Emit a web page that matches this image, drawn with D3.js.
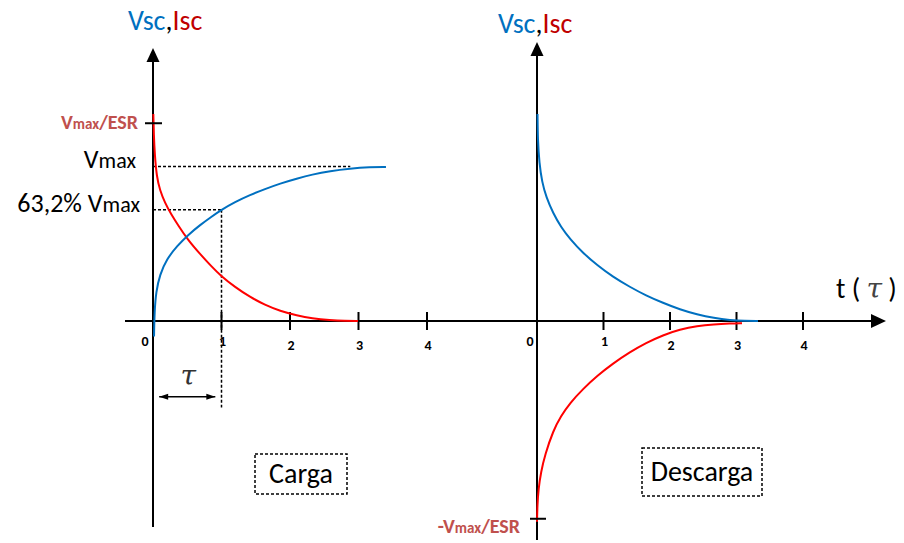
<!DOCTYPE html>
<html>
<head>
<meta charset="utf-8">
<script src="https://cdn.jsdelivr.net/npm/d3@7"></script>
<style>
  body { margin: 0; background: #fff; }
  text { font-family: Carlito, Lato, sans-serif; }
</style>
</head>
<body>
<svg id="chart" width="904" height="543"></svg>
<script>
// time axis, in units of tau
const tickValues = [0, 1, 2, 3, 4];
const tickLabels = ['0', '1', '2', '3', '4'];

// levels on the vertical axis, in units of Vmax
const levelVmaxESR = 1.28;
const levelVmax = 1.0;
const level632 = 0.72;

// charge (Carga): [t, value]
const chargeVoltage = [[0.015, -0.1], [0.022, 0.06], [0.045, 0.19], [0.1, 0.3], [0.2, 0.4],
  [0.35, 0.485], [0.511, 0.557], [0.686, 0.621], [0.847, 0.673], [0.993, 0.718], [1.197, 0.77],
  [1.416, 0.816], [1.635, 0.854], [1.854, 0.89], [2.102, 0.922], [2.321, 0.948], [2.584, 0.971],
  [2.876, 0.987], [3.168, 0.996], [3.401, 0.997]];
const chargeCurrent = [[0.005, 1.34], [0.012, 1.204], [0.026, 1.074], [0.055, 0.932], [0.1, 0.848],
  [0.175, 0.764], [0.263, 0.693], [0.365, 0.621], [0.511, 0.524], [0.686, 0.434], [0.847, 0.356],
  [0.993, 0.291], [1.197, 0.22], [1.416, 0.155], [1.635, 0.104], [1.854, 0.065], [2.102, 0.036],
  [2.321, 0.017], [2.584, 0.005], [2.803, 0], [2.993, 0]];

// discharge (Descarga): [t, value]
const dischargeVoltage = [[0.008, 1.34], [0.012, 1.172], [0.035, 1.023], [0.075, 0.9], [0.14, 0.8],
  [0.241, 0.699], [0.361, 0.608], [0.496, 0.531], [0.692, 0.44], [0.902, 0.362], [1.143, 0.285],
  [1.398, 0.22], [1.639, 0.165], [1.895, 0.117], [2.15, 0.074], [2.406, 0.042], [2.662, 0.019],
  [2.902, 0.006], [3.128, 0], [3.323, 0]];
const dischargeCurrent = [[0, -1.3], [0.006, -1.191], [0.022, -1.087], [0.06, -0.977], [0.12, -0.867],
  [0.241, -0.712], [0.361, -0.615], [0.496, -0.531], [0.692, -0.44], [0.902, -0.356], [1.143, -0.275],
  [1.398, -0.201], [1.639, -0.142], [1.895, -0.091], [2.15, -0.055], [2.406, -0.032], [2.662, -0.021],
  [2.902, -0.016], [3.083, -0.014]];

const blue = '#0070c0';
const red = '#ff0000';
const darkRed = '#c00000';
const labelRed = '#c0504d';

const svg = d3.select('#chart');

const y = d3.scaleLinear().domain([0, 1]).range([321, 166.5]);
const xL = d3.scaleLinear().domain([0, 4]).range([153, 427]);
const xR = d3.scaleLinear().domain([0, 4]).range([537, 803]);

const y0 = y(0);

// horizontal time axis (shared by both panels)
svg.append('line')
  .attr('x1', 125).attr('x2', 874)
  .attr('y1', y0).attr('y2', y0)
  .style('stroke', '#000').style('stroke-width', 2);
svg.append('path')
  .attr('d', `M886,${y0} L871,${y0 - 7} L871,${y0 + 7} Z`)
  .style('fill', '#000');

// vertical axes with arrows
function vAxis(x, top, bottom) {
  svg.append('line')
    .attr('x1', x).attr('x2', x)
    .attr('y1', bottom).attr('y2', top + 12)
    .style('stroke', '#000').style('stroke-width', 2);
  svg.append('path')
    .attr('d', `M${x},${top} L${x - 6.5},${top + 14} L${x + 6.5},${top + 14} Z`)
    .style('fill', '#000');
}
vAxis(xL(0), 48, 527);
vAxis(xR(0), 42, 540);

// ticks and tick labels
function ticks(x, zeroDx) {
  const g = svg.append('g');
  g.selectAll('line')
    .data(tickValues.slice(1))
    .enter()
      .append('line')
      .attr('x1', d => x(d)).attr('x2', d => x(d))
      .attr('y1', y0 - 9).attr('y2', y0 + 9)
      .style('stroke', '#000').style('stroke-width', 2);
  g.selectAll('text')
    .data(tickValues)
    .enter()
      .append('text')
      .attr('x', d => x(d) + (d === 0 ? zeroDx : 1))
      .attr('y', d => y0 + 25 + (d >= 2 ? 4 : 0))
      .attr('text-anchor', 'middle')
      .style('font-size', '14px')
      .style('font-weight', 'bold')
      .text((d, i) => tickLabels[i]);
}
ticks(xL, -8);
ticks(xR, -7);

// curves
const line = x => d3.line()
  .x(d => x(d[0]))
  .y(d => y(d[1]))
  .curve(d3.curveBasis);

function curve(data, x, color) {
  svg.append('path')
    .datum(data)
    .attr('d', line(x))
    .style('fill', 'none')
    .style('stroke', color)
    .style('stroke-width', 2);
}

// dotted guides (left panel)
const dotted = (x1, y1, x2, y2) => svg.append('line')
  .attr('x1', x1).attr('y1', y1).attr('x2', x2).attr('y2', y2)
  .style('stroke', '#000').style('stroke-width', 1.5)
  .style('stroke-dasharray', '3,2');
dotted(xL(0), y(levelVmax), xL(2.88), y(levelVmax));
dotted(xL(0), y(level632), xL(1), y(level632));
dotted(xL(1), y(level632), xL(1), y(-0.56));

curve(chargeCurrent, xL, red);
curve(chargeVoltage, xL, blue);
curve(dischargeVoltage, xR, blue);
curve(dischargeCurrent, xR, red);

// Vmax/ESR marks
svg.append('line')
  .attr('x1', xL(0) - 8).attr('x2', xL(0) + 9)
  .attr('y1', y(levelVmaxESR)).attr('y2', y(levelVmaxESR))
  .style('stroke', '#000').style('stroke-width', 2);
svg.append('line')
  .attr('x1', xR(0) - 7).attr('x2', xR(0) + 9)
  .attr('y1', y(-levelVmaxESR)).attr('y2', y(-levelVmaxESR))
  .style('stroke', '#000').style('stroke-width', 2);

function redLabel(x, yy, prefix) {
  const t = svg.append('text')
    .attr('x', x).attr('y', yy)
    .attr('text-anchor', 'end')
    .style('fill', labelRed)
    .style('font-weight', 'bold')
    .style('font-size', '20px');
  t.append('tspan').text(prefix + 'V');
  t.append('tspan').style('font-size', '15px').text('max');
  t.append('tspan').text('/ESR');
}
redLabel(138, y(levelVmaxESR) + 6, '');
redLabel(520, y(-levelVmaxESR) + 14, '-');

// black level labels
function vmaxLabel(x, yy, prefix) {
  const t = svg.append('text')
    .attr('x', x).attr('y', yy)
    .attr('text-anchor', 'end')
    .style('fill', '#000')
    .style('font-size', '26px');
  t.append('tspan').text(prefix + 'V');
  t.append('tspan').style('font-size', '22px').text('max');
}
vmaxLabel(136, y(levelVmax) + 1, '');
vmaxLabel(140, y(level632) + 2, '63,2% ');

// axis titles
function title(x, yy) {
  const t = svg.append('text')
    .attr('x', x).attr('y', yy)
    .style('font-size', '28px');
  t.append('tspan').style('fill', blue).text('Vsc');
  t.append('tspan').style('fill', '#000').text(',');
  t.append('tspan').style('fill', darkRed).text('Isc');
}
title(128, 30);
title(498, 33);

const tAxis = svg.append('text')
  .attr('x', 836).attr('y', 298)
  .style('font-size', '28px')
  .style('fill', '#000');
tAxis.append('tspan').text('t ( ');
tAxis.append('tspan')
  .style('font-family', '"DejaVu Serif", serif')
  .style('font-style', 'italic')
  .style('fill', '#444')
  .text('τ');
tAxis.append('tspan').text(' )');

// tau span under the first interval
svg.append('text')
  .attr('x', (xL(0) + xL(1)) / 2 + 1).attr('y', 385)
  .attr('text-anchor', 'middle')
  .style('font-family', '"DejaVu Serif", serif')
  .style('font-style', 'italic')
  .style('font-size', '28px')
  .style('fill', '#333')
  .text('τ');
const ay = y(-0.49);
svg.append('line')
  .attr('x1', xL(0.09)).attr('x2', xL(0.91))
  .attr('y1', ay).attr('y2', ay)
  .style('stroke', '#000').style('stroke-width', 1.5);
svg.append('path')
  .attr('d', `M${xL(0.09)},${ay} L${xL(0.09) + 9},${ay - 3} L${xL(0.09) + 9},${ay + 3} Z` +
    `M${xL(0.91)},${ay} L${xL(0.91) - 9},${ay - 3} L${xL(0.91) - 9},${ay + 3} Z`)
  .style('fill', '#000');

// panel captions in dotted boxes
function caption(x, yy, w, h, label, size) {
  svg.append('rect')
    .attr('x', x).attr('y', yy)
    .attr('width', w).attr('height', h)
    .style('fill', 'none')
    .style('stroke', '#000').style('stroke-width', 1.5)
    .style('stroke-dasharray', '3,2');
  svg.append('text')
    .attr('x', x + w / 2).attr('y', yy + h / 2 + 9)
    .attr('text-anchor', 'middle')
    .style('font-size', size + 'px')
    .text(label);
}
caption(255, 454, 92, 40, 'Carga', 28);
caption(642, 448, 120, 48, 'Descarga', 28);
</script>
</body>
</html>
